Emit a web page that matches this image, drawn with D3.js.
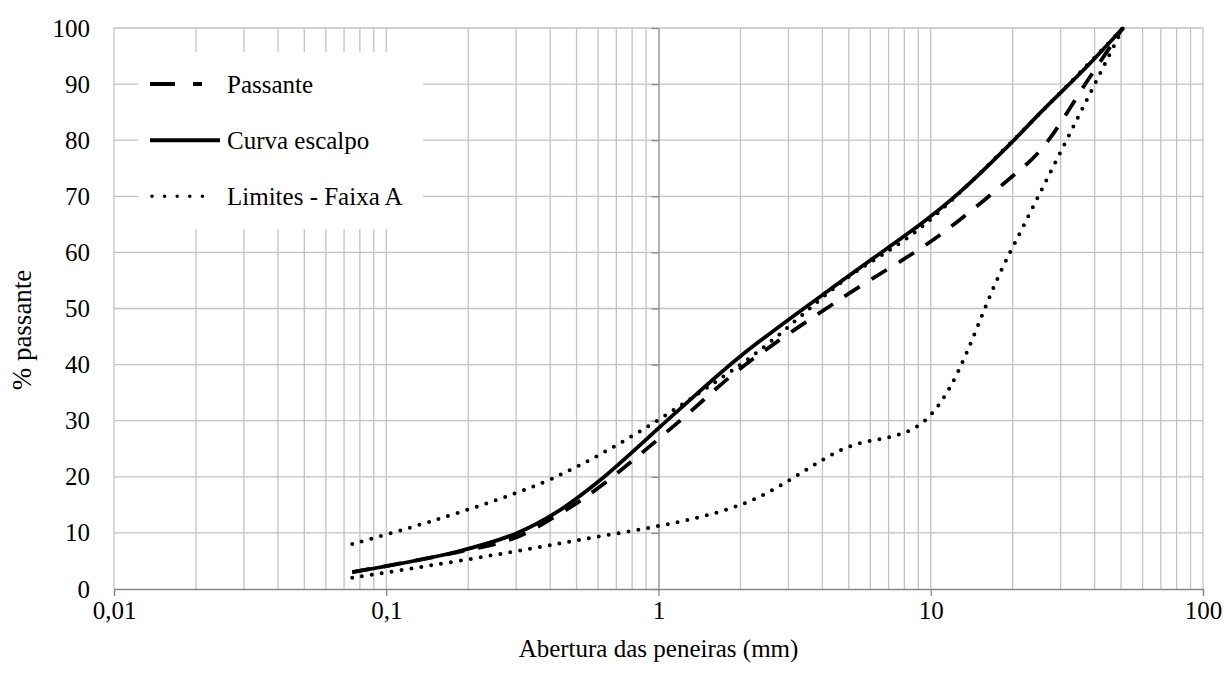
<!DOCTYPE html>
<html>
<head>
<meta charset="utf-8">
<script src="https://cdn.jsdelivr.net/npm/d3@7"></script>
<style>
  body { margin: 0; background: #fff; }
  svg text { font-family: "Liberation Serif", "Tinos", "DejaVu Serif", serif !important; fill: #000; }
</style>
</head>
<body>
<div id="chart"></div>
<script>
// sieve openings (mm) and % passing
const sieves = [0.075, 0.18, 0.3, 0.42, 0.6, 1.18, 2.0, 4.8, 9.5, 12.7, 19.1, 25.4, 38.1, 50.8];
const passante = [3.0, 6.5, 9.2, 13.0, 18.0, 29.7, 39.3, 52.1, 61.2, 65.7, 72.8, 78.3, 91.0, 100];
const escalpo = [3.0, 6.6, 9.9, 13.6, 19.1, 31.8, 41.5, 55.2, 65.6, 70.6, 78.8, 85.0, 93.5, 100];

// Faixa A limits
const lowerSieves = [0.075, 0.42, 2.0, 4.8, 9.5, 19.1, 50.8];
const limitLower = [2, 8, 15, 25, 30, 59, 100];
const upperSieves = [0.075, 0.42, 2.0, 4.8, 9.5, 50.8];
const limitUpper = [8, 20, 40, 55, 65, 100];

const xTicks = [0.01, 0.1, 1, 10, 100];
const xTickLabels = ['0,01', '0,1', '1', '10', '100'];
const yTicks = [0, 10, 20, 30, 40, 50, 60, 70, 80, 90, 100];

const legendItems = ['Passante', 'Curva escalpo', 'Limites - Faixa A'];

const serif = '"Liberation Serif", "Tinos", "DejaVu Serif", serif';

let width = 1226,
  height = 678;

let svg = d3.select('#chart')
  .append('svg')
  .attr('width', width)
  .attr('height', height)
  .attr('font-family', serif);

let x = d3.scaleLog().domain([0.01, 100]).range([114, 1203]);
let y = d3.scaleLinear().domain([0, 100]).range([589, 28]);

const gridColor = '#c3c3c3';
const axisColor = '#878787';

// minor + major vertical gridlines
let vlines = [];
[0.01, 0.1, 1, 10].forEach(d => {
  for (let k = 1; k <= 9; k++) vlines.push(d * k);
});
vlines.push(100);

svg.append('g')
  .selectAll('line')
  .data(vlines.filter(v => v !== 1))
  .enter()
  .append('line')
  .attr('x1', d => x(d)).attr('x2', d => x(d))
  .attr('y1', y(0)).attr('y2', y(100))
  .attr('stroke', gridColor)
  .attr('stroke-width', 1.3);

svg.append('g')
  .selectAll('line')
  .data(yTicks.filter(v => v > 0))
  .enter()
  .append('line')
  .attr('x1', x(0.01)).attr('x2', x(100))
  .attr('y1', d => y(d)).attr('y2', d => y(d))
  .attr('stroke', gridColor)
  .attr('stroke-width', 1.3);

// x axis (bottom) with ticks going down
let xAxis = d3.axisBottom(x)
  .tickValues(xTicks)
  .tickFormat((d, i) => xTickLabels[i])
  .tickSize(7)
  .tickPadding(5);

let gx = svg.append('g')
  .attr('transform', `translate(0,${y(0)})`)
  .call(xAxis)
  .attr('font-family', serif)
  .attr('font-size', 25);
gx.select('.domain').attr('stroke', axisColor).attr('stroke-width', 1.3);
gx.selectAll('.tick line').attr('stroke', axisColor).attr('stroke-width', 1.3);

// y axis crosses at x = 1, labels sit at the left edge
let yAxis = d3.axisLeft(y)
  .tickValues(yTicks)
  .tickFormat('')
  .tickSize(7)
  .tickSizeOuter(0);

let gy = svg.append('g')
  .attr('transform', `translate(${x(1)},0)`)
  .call(yAxis);
gy.select('.domain').attr('stroke', axisColor).attr('stroke-width', 1.3);
gy.selectAll('.tick line').attr('stroke', axisColor).attr('stroke-width', 1.3);

svg.append('g')
  .selectAll('text')
  .data(yTicks)
  .enter()
  .append('text')
  .attr('x', 90)
  .attr('y', d => y(d))
  .attr('dy', '0.34em')
  .attr('text-anchor', 'end')
  .attr('font-size', 25)
  .text(d => d);

// curves
let line = d3.line()
  .x(d => x(d[0]))
  .y(d => y(d[1]))
  .curve(d3.curveCatmullRom);

const zip = (xs, ys) => xs.map((v, i) => [v, ys[i]]);

let plot = svg.append('g');

plot.append('path')
  .datum(zip(lowerSieves, limitLower))
  .attr('d', line)
  .attr('fill', 'none')
  .attr('stroke', '#000')
  .attr('stroke-width', 4)
  .attr('stroke-linecap', 'round')
  .attr('stroke-dasharray', '0 10');

plot.append('path')
  .datum(zip(upperSieves, limitUpper))
  .attr('d', line)
  .attr('fill', 'none')
  .attr('stroke', '#000')
  .attr('stroke-width', 4)
  .attr('stroke-linecap', 'round')
  .attr('stroke-dasharray', '0 10');

plot.append('path')
  .datum(zip(sieves, passante))
  .attr('d', line)
  .attr('fill', 'none')
  .attr('stroke', '#000')
  .attr('stroke-width', 3.8)
  .attr('stroke-dasharray', '18 14');

plot.append('path')
  .datum(zip(sieves, escalpo))
  .attr('d', line)
  .attr('fill', 'none')
  .attr('stroke', '#000')
  .attr('stroke-width', 3.8);

// legend
let legend = svg.append('g');
legend.append('rect')
  .attr('x', 138).attr('y', 52)
  .attr('width', 285).attr('height', 177)
  .attr('fill', '#fff');

const legendDash = ['25 18', null, '0 12.6'];
const legendEnd = [202, 220, 214];

legendItems.forEach((name, i) => {
  let ly = y(90 - i * 10);
  let l = legend.append('line')
    .attr('x1', i === 2 ? 152 : 150).attr('x2', legendEnd[i])
    .attr('y1', ly).attr('y2', ly)
    .attr('stroke', '#000')
    .attr('stroke-width', i === 2 ? 3.5 : 4);
  if (legendDash[i]) l.attr('stroke-dasharray', legendDash[i]);
  if (i === 2) l.attr('stroke-linecap', 'round');
  legend.append('text')
    .attr('x', 227)
    .attr('y', ly)
    .attr('dy', '0.34em')
    .attr('font-size', 25)
    .text(name);
});

// axis titles
svg.append('text')
  .attr('x', x(1))
  .attr('y', 657)
  .attr('text-anchor', 'middle')
  .attr('font-size', 25)
  .text('Abertura das peneiras (mm)');

svg.append('text')
  .attr('transform', `translate(31,330) rotate(-90)`)
  .attr('text-anchor', 'middle')
  .attr('font-size', 27)
  .text('% passante');
</script>
</body>
</html>
